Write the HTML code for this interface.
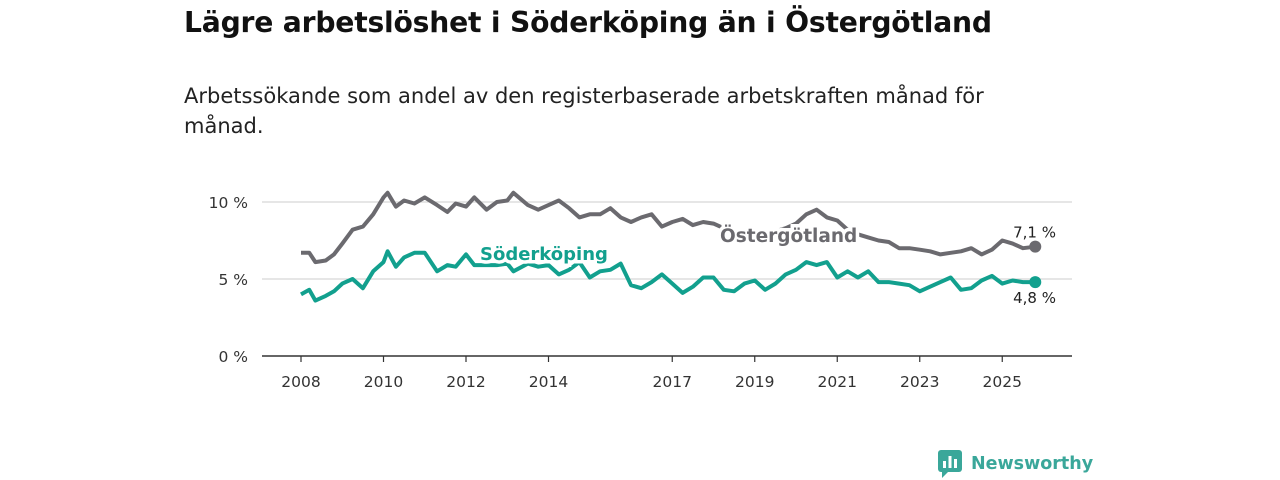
<!DOCTYPE html>
<html><head><meta charset="utf-8"><style>
body{margin:0;width:1280px;height:480px;background:#fff;font-family:"DejaVu Sans","Liberation Sans",sans-serif;position:relative;overflow:hidden}
h1{position:absolute;left:184px;top:6px;margin:0;font-size:28.2px;font-weight:bold;color:#111;letter-spacing:-0.2px}
.sub{position:absolute;left:184px;top:81px;width:850px;font-size:21px;line-height:30px;color:#222}
svg{position:absolute;left:0;top:0}
</style></head><body>
<h1>Lägre arbetslöshet i Söderköping än i Östergötland</h1>
<div class="sub">Arbetssökande som andel av den registerbaserade arbetskraften månad för månad.</div>
<svg id="chart" width="1280" height="480"></svg>
<script>
const dates=[2008,2008.2,2008.35,2008.6,2008.8,2009,2009.25,2009.5,2009.75,2010,2010.1,2010.3,2010.5,2010.75,2011,2011.3,2011.55,2011.75,2012,2012.2,2012.5,2012.75,2013,2013.15,2013.5,2013.75,2014,2014.25,2014.5,2014.75,2015,2015.25,2015.5,2015.75,2016,2016.25,2016.5,2016.75,2017,2017.25,2017.5,2017.75,2018,2018.25,2018.5,2018.75,2019,2019.25,2019.5,2019.75,2020,2020.25,2020.5,2020.75,2021,2021.25,2021.5,2021.75,2022,2022.25,2022.5,2022.75,2023,2023.25,2023.5,2023.75,2024,2024.25,2024.5,2024.75,2025,2025.25,2025.5,2025.8];
const ostergotland=[6.7,6.7,6.1,6.2,6.6,7.3,8.2,8.4,9.2,10.3,10.6,9.7,10.1,9.9,10.3,9.8,9.35,9.9,9.7,10.3,9.5,10,10.1,10.6,9.8,9.5,9.8,10.1,9.6,9.0,9.2,9.2,9.6,9.0,8.7,9.0,9.2,8.4,8.7,8.9,8.5,8.7,8.6,8.3,8.0,7.9,7.9,8.0,8.1,8.3,8.6,9.2,9.5,9.0,8.8,8.2,7.9,7.7,7.5,7.4,7.0,7.0,6.9,6.8,6.6,6.7,6.8,7.0,6.6,6.9,7.5,7.3,7.0,7.1];
const soderkoping=[4.0,4.3,3.6,3.9,4.2,4.7,5.0,4.4,5.5,6.1,6.8,5.8,6.4,6.7,6.7,5.5,5.9,5.8,6.6,5.9,5.9,5.9,6.0,5.5,6.0,5.8,5.9,5.3,5.6,6.1,5.1,5.5,5.6,6.0,4.6,4.4,4.8,5.3,4.7,4.1,4.5,5.1,5.1,4.3,4.2,4.7,4.9,4.3,4.7,5.3,5.6,6.1,5.9,6.1,5.1,5.5,5.1,5.5,4.8,4.8,4.7,4.6,4.2,4.5,4.8,5.1,4.3,4.4,4.9,5.2,4.7,4.9,4.8,4.8];
const yTicks=[0,5,10];
const xTicks=[2008,2010,2012,2014,2017,2019,2021,2023,2025];
const svg=document.getElementById('chart');
const NS='http://www.w3.org/2000/svg';
const X=d=>301+(d-2008)*41.25;
const Y=v=>356-v*15.4;
function mk(t,a){const e=document.createElementNS(NS,t);for(const k in a)e.setAttribute(k,a[k]);svg.appendChild(e);return e;}
yTicks.forEach(v=>{
 if(v>0){const g=mk('line',{x1:262,x2:1072,y1:Y(v),y2:Y(v),stroke:'#d8d8d8','stroke-width':1.2});
 
 }
 const t=mk('text',{x:248,y:Y(v)+6,'text-anchor':'end','font-size':15.5,fill:'#333'});t.textContent=v+' %';
 
 
});
const ax=mk('line',{x1:262,x2:1072,y1:356,y2:356,stroke:'#333','stroke-width':1.5});


xTicks.forEach(d=>{
 mk('line',{x1:X(d),x2:X(d),y1:356,y2:362,stroke:'#333','stroke-width':1.2});
 const t=mk('text',{x:X(d),y:387,'text-anchor':'middle','font-size':15.5,fill:'#333'});t.textContent=d;
 
 
});
function line(vals,col,name){
 const p=mk('path',{d:vals.map((v,i)=>(i?'L':'M')+X(dates[i]).toFixed(1)+','+Y(v).toFixed(1)).join(''),fill:'none',stroke:col,'stroke-width':4,'stroke-linejoin':'round'});
 
 
 const n=vals.length-1;
 const c=mk('circle',{cx:X(dates[n]),cy:Y(vals[n]),r:6,fill:col});
 
 
}
line(ostergotland,'#6b6a6f','ostergotland-line');
line(soderkoping,'#12a08e','soderkoping-line');
function lab(x,y,txt,col,name,size,bold,anchor){
 const t=mk('text',{x:x,y:y,'font-size':size,'font-weight':bold?'bold':'normal',fill:col,stroke:'#fff','stroke-width':bold?7:4,'paint-order':'stroke','text-anchor':anchor||'start'});
 t.textContent=txt;
 
 
}
lab(480,260,'Söderköping','#12a08e','soderkoping-label',18,true);
lab(720,242,'Östergötland','#6b6a6f','ostergotland-label',18.5,true);
const n=dates.length-1;
lab(1056,Y(ostergotland[n])-9,'7,1 %','#222','ostergotland-value',15,false,'end');
lab(1056,Y(soderkoping[n])+21,'4,8 %','#222','soderkoping-value',15,false,'end');
</script>
<div style="position:absolute;left:938px;top:450px;height:28px;display:flex;align-items:center">
<svg width="24" height="28" style="position:static"><rect x="0" y="0" width="24" height="22" rx="3" fill="#3aa79a"/><path d="M4 22 L4 28 L10 22Z" fill="#3aa79a"/><rect x="5" y="11" width="3" height="7" fill="#fff"/><rect x="10.5" y="6" width="3" height="12" fill="#fff"/><rect x="16" y="9" width="3" height="9" fill="#fff"/></svg>
<span style="margin-left:9px;font-size:17.5px;font-weight:bold;color:#3aa79a">Newsworthy</span></div>
</body></html>
